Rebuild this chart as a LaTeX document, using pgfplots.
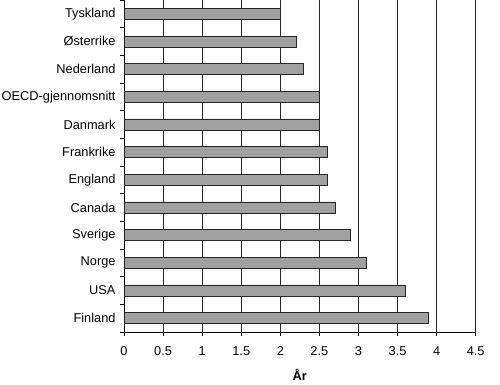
\documentclass[border=0pt]{standalone}
\usepackage{pgfplots}
\pgfplotsset{compat=1.18}
\usepackage{fontspec}
\setmainfont{Liberation Sans}
\definecolor{barfill}{HTML}{A0A0A0}
\begin{document}
\fontsize{12.8}{15.4}\selectfont
\begin{tikzpicture}
\useasboundingbox (-124pt,-53pt) rectangle (376pt,332pt);
\begin{axis}[
  at={(0,0)}, anchor=south west,
  scale only axis, width=351.7pt, height=332pt,
  xbar, bar width=11pt,
  xmin=0, xmax=4.5, ymin=-0.5, ymax=11.5,
  axis x line*=bottom, axis y line*=left,
  axis line style={black, line width=0.7pt},
  xtick={0,0.5,1,1.5,2,2.5,3,3.5,4,4.5},
  xticklabels={0,0.5,1,1.5,2,2.5,3,3.5,4,4.5},
  ytick={0,1,2,3,4,5,6,7,8,9,10,11},
  yticklabels={Finland,USA,Norge,Sverige,Canada,England,Frankrike,Danmark,OECD-gjennomsnitt,Nederland,Østerrike,Tyskland},
  minor ytick={-0.5,0.5,1.5,2.5,3.5,4.5,5.5,6.5,7.5,8.5,9.5,10.5,11.5},
  major y tick style={draw=none},
  minor y tick style={black, line width=0.7pt},
  major x tick style={black, line width=0.7pt},
  minor tick length=4pt, major tick length=4pt,
  tick align=outside,
  xmajorgrids,
  major grid style={black!85, line width=0.7pt},
  tick label style={font=\fontsize{12.8}{15.4}\selectfont},
  xticklabel style={yshift=-6pt},
  xlabel={\textbf{År}},
  xlabel style={font=\fontsize{12.8}{15.4}\selectfont, yshift=-5pt},
  /pgf/number format/assume math mode=true,
]
\addplot[fill=barfill, draw=black!85, line width=0.7pt] coordinates {
  (3.9,0) (3.6,1) (3.1,2) (2.9,3) (2.7,4) (2.6,5)
  (2.6,6) (2.5,7) (2.5,8) (2.3,9) (2.2,10) (2.0,11)
};
\end{axis}
\end{tikzpicture}
\end{document}
